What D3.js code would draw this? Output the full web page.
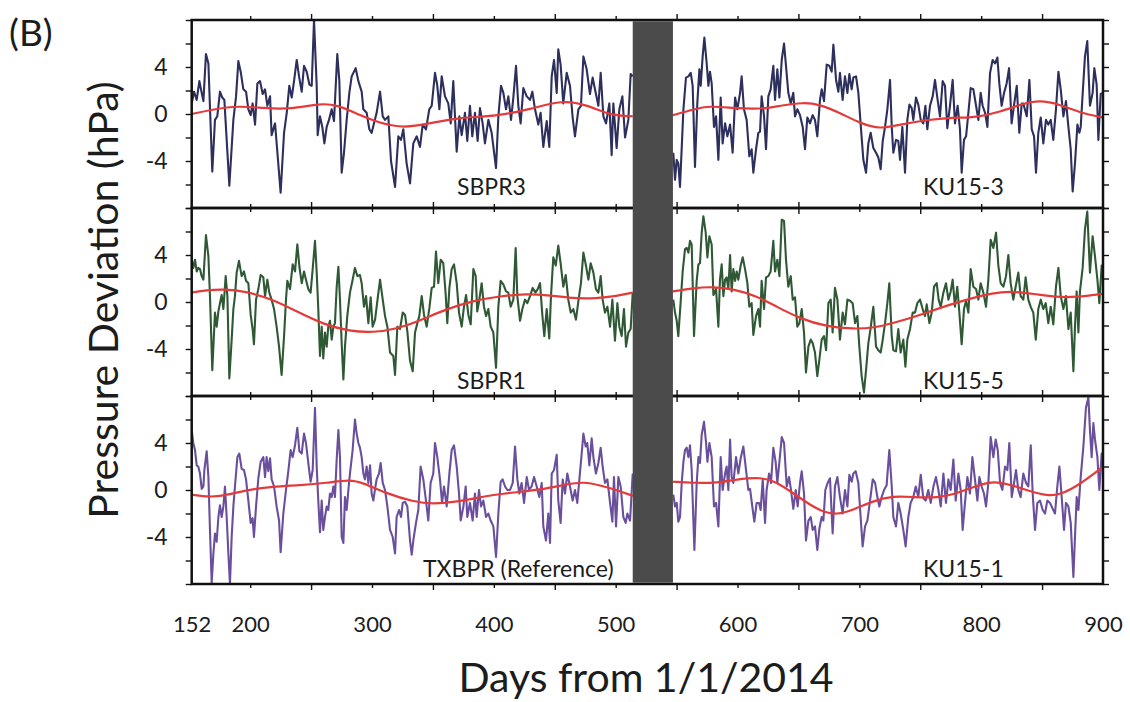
<!DOCTYPE html>
<html>
<head>
<meta charset="utf-8">
<script src="https://cdn.jsdelivr.net/npm/d3@7"></script>
<style>
  body { margin: 0; background: #fff; }
  svg { display: block; }
  text { font-family: Lato, "Open Sans", sans-serif; fill: #1c1c1c; }
</style>
</head>
<body>
<div id="chart"></div>
<script>
// axis values
var xDomain = [152, 900];
var yDomain = [-8, 8];
var gapDays = [514, 547];
var yTickLabels = [4, 0, -4];
var xTickLabels = [152, 200, 300, 400, 500, 600, 700, 800, 900];
var stationNames = [["SBPR3", "KU15-3"], ["SBPR1", "KU15-5"], ["TXBPR (Reference)", "KU15-1"]];

// pressure deviation (hPa) by day
var sbpr3 = [[152,0.9],[153.9,1.9],[156.1,1.2],[158.3,2.8],[160.2,1.8],[161.6,1.1],[163.7,5.1],[165.7,4.3],[168.9,-4.9],[171.1,-0.5],[173,-0.2],[175.2,1.9],[177.1,1.4],[178.8,1.2],[182.9,-6.1],[186.2,-0.5],[188.4,1.5],[190.3,4.5],[192.2,3.6],[194.4,2.1],[196.6,1.9],[198.5,0.4],[200.4,-0.1],[202,0.9],[204,-0.9],[205.9,2.6],[208.1,2.8],[210.3,1.7],[212.2,2.1],[214.1,0.7],[216.3,1.5],[217.6,-1.8],[220.4,-0.8],[225,-6.7],[227.8,-1.6],[230,0.1],[232.1,2.4],[234.1,1.4],[236,2.8],[238.2,4.6],[240.1,3.2],[242.3,1.9],[244.2,4.1],[246.4,3.6],[248.6,2.5],[250.5,2.4],[252.4,8],[254.6,2.4],[255.4,-1.8],[257.3,-0.2],[259.2,-1.1],[260.9,-2.5],[262.8,-1.1],[264.7,-0.5],[266.9,0.4],[268.8,-0.6],[271.5,5.1],[273.2,2.8],[275.1,-5],[277,-3.3],[279.2,-0.5],[281.4,1.8],[283.3,3.2],[286.6,3.9],[288.8,2.8],[291.5,1.9],[292.9,0.4],[295.6,0.1],[297.8,-1.3],[299.7,-1.6],[303.8,0.1],[306.6,1.9],[308.8,-0.2],[310.7,-0.5],[313.4,-0.2],[315.6,-4],[318.9,-6.2],[321.6,-1.9],[323.8,-2.2],[325.7,-1.3],[328.4,-4.2],[331.2,-5.9],[333.9,-2.5],[336.7,-1.9],[339.4,-2.8],[341.6,-0.9],[344.3,-1.3],[347,0.4],[349,0.7],[351.7,3.5],[353.6,2.4],[355.3,0.4],[357.2,3.2],[359.9,1.5],[362.6,0.9],[364.6,-0.8],[366.7,2.8],[369.5,-3.2],[371.7,-0.2],[373.6,-1.8],[376.3,0.1],[378.2,-2.3],[380.4,0.7],[382.3,-1.9],[384.5,0.1],[386.7,-2.3],[388.6,0.5],[390.8,-0.8],[392.7,-2.5],[395.5,-0.5],[398.2,-1.6],[401.8,-4.6],[403.7,-0.2],[405.9,2.4],[407.8,1.8],[410,0.4],[411.9,1.5],[414.1,-0.5],[416,1.4],[418.2,4.1],[420.1,0.7],[422,-0.8],[424.2,2.2],[427,1.5],[429.7,1.2],[431.6,1.9],[433.8,0.4],[436.5,-0.9],[438.4,0.1],[440.6,-2.8],[443.4,-0.6],[445.5,-2.8],[447.5,3.2],[449.4,4.6],[451.6,1.8],[452.9,5.5],[454.8,4.2],[457,0.9],[459.8,3.5],[462.5,2.4],[464.7,-0.3],[466.6,-1.9],[469.4,0.4],[471.5,0.7],[473.5,4.9],[476.2,3.8],[478.9,1.7],[481.1,3.1],[483,2.1],[485.8,0.7],[487.7,3.5],[489.9,-0.2],[492.1,-0.8],[494.8,0.9],[496.7,-3.5],[498.1,0.9],[500.8,-2.9],[503,0.4],[505.5,1.5],[507.7,-2],[510.4,-0.5],[512.3,3.4],[514,3.2]];
var ku153 = [[547.3,-3.3],[548.7,-5.6],[550.1,-3.9],[551.4,-4.2],[552.8,-6.2],[555.6,0.4],[557.7,3.1],[559.7,3.2],[561.6,3.5],[563.2,2.4],[565.1,-4.5],[567,0.9],[568.7,3.8],[569.8,2.4],[571.4,4.9],[572.8,6.5],[574.7,4.3],[576.1,2.4],[577.4,3.6],[578.8,2.6],[580.7,-1.1],[582.4,-0.2],[584.3,-3.9],[586.2,1.4],[587.8,-2.5],[589.8,-0.8],[591.7,-1.9],[593.9,-0.9],[596,-3.3],[598,1.4],[599.9,0.4],[602.1,1.8],[603.4,3.2],[605.3,0.4],[607.5,-0.5],[609.7,-3.6],[611.6,-3],[613,-5],[615.2,-3],[617.1,-1.6],[618.5,-1.5],[619.8,1.5],[621.8,-0.2],[623.4,-3],[625.3,1.5],[627.2,2.1],[629.4,4.1],[630.8,1.2],[632.7,3.8],[634.4,1.4],[636.3,4.6],[638.2,6],[639.8,4.1],[641.7,1.8],[643.7,0.9],[645.8,1.8],[647.2,-0.2],[649.1,0.4],[651.3,-0.1],[653.5,-1.1],[655.4,-3],[657.3,-0.3],[659.5,-0.8],[661.7,-0.1],[663.6,-0.5],[665.5,-1.9],[667.7,1.2],[669.1,2.1],[671,1.1],[673.2,4.2],[675.4,4.1],[677.3,3.6],[678.7,5.9],[680.9,2.9],[682.8,1.9],[684.1,3.5],[686.3,1.2],[688.2,3.2],[690.2,1.8],[691.8,3.4],[693.7,2.1],[695.1,3.1],[697.3,3.2],[699.2,1.8],[701.1,-0.9],[703.3,-3.9],[705.5,-5],[707.4,-2.5],[709.3,-1.6],[711.5,-2.9],[713.7,-3.3],[715.6,-3.7],[717.5,-4.7],[719.2,-2.3],[721.1,-1.1],[723,0.4],[725.2,2.9],[726.6,-1.1],[727.9,-3.3],[730.1,-2.2],[732,-2.3],[733.4,-3.9],[735.3,-1.1],[737.5,-5],[739.4,-0.5],[741.1,0.8],[743,0.5],[744.3,-0.5],[746.5,1.4],[748.4,0.8],[750.4,-0.5],[752.5,-0.8],[754.2,0.7],[755.8,-1.3],[758,0.7],[760.2,1.5],[762.1,2.9],[764,1.4],[766.2,-0.2],[768.4,2.8],[770.3,2.4],[772.2,-1.2],[774.4,0.7],[776.6,2.9],[778.5,-0.8],[780.7,0.7],[782.6,-1.3],[784,-5],[785.9,-2.2],[787.6,-1.9],[789.5,0.1],[791.4,2.2],[793.6,2.1],[795.8,0.7],[797.7,-0.5],[799.6,1.8],[801.2,0.7],[803.2,0.1],[805.1,-1.1],[807.3,3.5],[809.4,4.6],[811.4,4.3],[813.3,4.8],[814.9,2.6],[816.8,0.7],[818.8,1.8],[820.9,2.6],[822.9,3.9],[825,-0.8],[826.9,0.7],[829.2,2.4],[831.3,-1.6],[833.3,0.9],[834.6,0.9],[837.4,-0.2],[839.6,2.9],[841.5,-1.3],[843.4,-1.9],[845,-5],[846.9,-1.6],[848.9,-0.3],[851,-2.5],[853.2,-0.5],[855.1,-0.9],[857.1,-0.5],[859.2,-2.2],[861.4,0.4],[863.4,3.6],[865.3,2.1],[867.5,-0.2],[869.6,1.1],[871.6,-1.1],[873.5,-3],[875.1,-6.6],[877,-4.2],[879,-0.9],[880.6,-1.6],[881.7,-1.1],[883.3,1.7],[885.2,4.9],[887.1,6.2],[889.3,0.7],[891.5,1.8],[892.9,3.9],[894.8,2.5],[896.2,-2.2],[898.1,1.7],[900,1.8]];
var sbpr1 = [[152,3.6],[153.3,2.9],[154.7,3.6],[156.1,2.6],[157.4,2.9],[158.8,2.8],[160.2,2.2],[161.6,1.9],[163.7,5.7],[165.7,3.9],[167,0.5],[168.9,-5.8],[171.1,-0.9],[172.5,-2.1],[173.9,-0.8],[175.2,-0.1],[176.6,0.6],[178,-0.6],[179.9,2.2],[181.3,0.5],[182.9,-6.5],[184.8,-3.2],[186.2,-0.6],[187.5,0.5],[188.9,2.5],[190.8,3.5],[193,2.2],[194.9,2.6],[196.6,1.8],[198.5,1.6],[200.4,-1.1],[202,-2.3],[203.1,-3.6],[204.8,0.2],[206.7,1.1],[208.6,2.3],[210.8,2.1],[212.2,0.5],[214.1,1.9],[215.7,0.8],[217.6,0.2],[219.6,-0.6],[221.7,-2.1],[223.7,-3.8],[225.8,-6.2],[227.8,-2.9],[229.4,0.2],[230.5,1.8],[232.7,1.1],[234.9,3.2],[236.8,2.6],[238.7,4.9],[240.4,3],[242.3,1.6],[244.2,2.6],[245.8,1.9],[247.7,1.1],[249.6,0.8],[251.3,2.8],[253.2,5.2],[254.6,2.5],[255.9,-0.6],[257.3,-4.6],[258.7,-2.1],[260,-4.8],[261.4,-2.6],[262.8,-3.8],[264.1,-2.1],[265.5,-1.6],[266.9,-3.2],[268.3,-2.1],[269.6,-1.8],[271,1.3],[272.4,3],[273.7,0.2],[275.1,-3.5],[276.5,-6.6],[277.8,-3.8],[279.7,-1.2],[281.9,0.8],[284.1,1.9],[286,2.9],[288,2.2],[290.1,2.3],[291.5,1.6],[293.4,-0.4],[295.1,0.5],[297,-1.8],[298.9,0.4],[300.5,-2.1],[302.5,-1.5],[304.4,0.1],[306.6,1.9],[308.8,0.2],[310.7,-1.2],[312.6,-2.1],[314.8,-4.3],[317.5,-4.6],[318.9,-6.2],[320.8,-2.1],[323,-2.3],[325.2,-0.9],[327.1,-1.1],[329,-2.5],[331.2,-5],[333.4,-5.9],[335.3,-2.6],[337.2,-1.8],[338.8,-1.2],[340.8,0.5],[342.7,-1.1],[344.9,-2.1],[347.1,-0.5],[349,1.2],[350.9,1.3],[352.5,4.3],[354.4,1.6],[356.4,3.6],[358.5,3.3],[360.5,0.6],[361.8,-1.8],[363.5,1.2],[365.4,2.8],[367.3,3.2],[369.5,1.6],[371.4,-0.9],[373.6,-2.1],[375.5,-0.4],[377.2,0.6],[379.1,-1.1],[381,-1.9],[383.2,2.8],[385.1,2.2],[386.4,-0.8],[388.1,0.2],[390,1.6],[391.9,-0.4],[393.6,-1.2],[395.5,-0.6],[397.4,-2.1],[399.6,-2.6],[401.8,-5.6],[403.7,-0.4],[405.6,1.8],[407.8,1.5],[410,0.9],[411.9,0.8],[413.8,-0.4],[416,0.2],[417.9,4.6],[419.3,0.5],[421.5,-1.6],[423.4,-0.6],[425.6,0.2],[427.5,-0.1],[429.7,0.5],[431.9,1.2],[434.1,0.8],[436,1.1],[437.9,1.6],[439.8,-1.1],[441.4,-2.9],[443.4,-0.6],[445.5,-3.1],[446.9,0.5],[448.8,3.8],[450.8,3.1],[452.9,4.8],[454.8,3.3],[457,1.3],[459,2.3],[461.1,0.2],[463.1,-0.9],[465.2,-0.6],[467.4,-1.5],[469.4,0.1],[471.5,1.6],[473.5,4.2],[475.6,3.1],[477.6,1.9],[479.5,3.3],[481.7,2.5],[483.8,1.1],[485.8,0.8],[487.7,2.2],[489.3,0.2],[491.2,-0.9],[493.2,-0.4],[495.4,-2.1],[497.3,0.2],[499.4,-3.3],[501.4,-0.1],[503,-2.1],[504.9,-2.9],[506.8,-0.6],[508.5,-3.8],[510.4,-2.6],[512.3,-2.3],[514,0.8]];
var ku155 = [[547.3,0.2],[548.7,-0.9],[550.1,-1.6],[551.4,-2.9],[553.4,0.1],[555,2.6],[556.9,4.5],[558.3,4.6],[559.7,4.2],[561,5.2],[562.4,4.9],[564.3,-2.9],[566.5,1.8],[567.9,3.2],[569.2,3.3],[570.6,5.9],[572,7.3],[573.9,5.9],[575.3,3.8],[576.9,5.6],[578.8,4.9],[580.2,0.6],[582.4,1.1],[584.3,-2.1],[585.6,1.9],[587,3.2],[588.4,0.5],[589.8,1.9],[591.1,2.1],[592.5,1.1],[593.9,4],[595.2,0.9],[596.6,2.8],[598,1.8],[599.3,2.6],[600.7,1.9],[602.6,3.1],[604.3,3.8],[606.2,2.8],[608.1,1.6],[609.7,-0.4],[611.6,-0.1],[613,-2.8],[615.2,-1.2],[617.1,-0.6],[618.5,-2.1],[619.8,1.8],[621.8,-0.6],[623.4,2.1],[625.3,2.2],[627.2,2.6],[629.4,5.2],[630.8,2.6],[632.7,3.6],[634.4,2.2],[636.3,7],[638.2,6.9],[639.8,3.6],[641.7,1.3],[643.7,2.2],[645.3,0.2],[647.2,0.4],[649.1,-2.1],[650.8,-1.8],[652.7,-0.6],[654.6,-2.6],[656.2,-6],[658.2,-3.8],[660.1,-3.2],[661.7,-3.5],[663.6,-4.3],[665.5,-6.3],[667.2,-4.9],[669.1,-3.2],[671,-2.9],[672.7,-4.1],[674.6,-0.1],[676.5,0.2],[678.1,-2.6],[680,1.2],[682,0.2],[684.1,-3.2],[686.3,-0.9],[688.2,-1.9],[690.2,0.2],[692.4,0.1],[694.5,-0.1],[696.5,-1.8],[698.4,-1.2],[700,-3.8],[701.9,-6.3],[703.8,-7.7],[705.5,-5.8],[707.4,-3.5],[709.3,-2.2],[711.5,-0.4],[713.7,-3.8],[715.6,-4.1],[717.5,-4.3],[719.2,-3.2],[721.1,-1.8],[723,-0.1],[724.6,1.6],[726.6,-2.9],[727.9,-4.1],[730.1,-4.2],[732,-2.3],[733.9,-4.3],[736.1,-3.2],[737.8,-5.5],[739.4,-3.2],[741.6,-2.3],[743.8,-0.9],[745.7,-0.9],[747.6,-0.1],[749.8,0.2],[752,-0.6],[753.9,-1.2],[755.3,-0.2],[757.5,-1.8],[759.4,-0.9],[761.3,1.3],[763.5,1.6],[765.1,0.2],[766.8,-0.4],[769,0.8],[771.1,1.6],[773.1,0.2],[775,0.9],[776.6,1.9],[778.5,-0.4],[780.4,1.3],[782.1,-0.9],[784,-3.6],[785.9,-0.6],[787.6,0.1],[789.5,-0.9],[791.4,2.8],[793.6,1.3],[795.8,1.1],[797.7,0.2],[799.6,1.6],[801.8,0.8],[804,-0.4],[805.9,1.9],[807.8,5.3],[810,4.6],[812.2,5.9],[814.1,3.1],[816,1.6],[818.2,1.3],[820.4,2.2],[822.3,4],[824.2,1.6],[826.4,0.2],[828.3,1.3],[830.5,2.5],[832.4,0.5],[834.6,0.2],[836.5,2.1],[838.7,0.2],[840.6,-0.4],[842.8,-0.9],[844.8,-3.2],[846.9,-0.6],[848.9,0.2],[851,-0.6],[853,-0.1],[855.1,-1.8],[857.1,-0.4],[859.2,-1.9],[861.4,1.3],[863.4,2.9],[865.3,0.5],[867.5,-0.6],[869.6,0.5],[871.6,-2.3],[873.5,-0.9],[875.7,-5.9],[877,-2.1],[878.4,0.9],[879.8,-2.6],[881.1,0.9],[883.3,2.9],[885.2,6.2],[887.1,7.7],[889.3,2.5],[891.5,5.6],[893.4,3.9],[895.4,1.9],[897,-0.1],[898.9,3.1],[900,2.8]];
var txbpr = [[152,5.1],[153.3,4],[154.7,3.4],[156.1,2.1],[157.4,2],[158.8,1.4],[160.2,0.1],[161.6,0.3],[162.4,1.7],[164.3,3.3],[165.7,1.1],[167,-3.4],[168.4,-7.9],[169.8,-5.4],[171.1,-3.7],[172.5,-4.4],[173.9,-2.3],[175.2,-1.3],[176.6,-2.3],[178,-1.4],[179.3,0.3],[180.7,-2.3],[182.1,-5.4],[183.4,-8],[184.8,-4],[186.2,-1.4],[187.5,0.3],[189.5,2.8],[191.1,3.1],[193,1.8],[194.9,1.7],[196.6,0.9],[198.5,-0.9],[200.4,-2.8],[202,-2.4],[203.1,-4],[204.8,-1.4],[206.7,1],[208.6,2.4],[210.8,2.8],[212.2,1.1],[213.5,2.8],[214.9,1.6],[216.3,2.7],[217.6,0.9],[219.6,0.3],[221.7,-1.4],[223.7,-2.6],[225,-5.3],[227.2,-2],[229.4,0],[231.3,1.6],[233.2,3.4],[234.9,2.8],[236.8,3.8],[238.7,5.3],[240.4,3.3],[242.3,3.1],[244.2,4.8],[245.8,4],[247.7,2.3],[249.6,0.7],[251.3,1.7],[253.2,7],[254.6,2],[255.9,-0.9],[257.3,-3.6],[258.7,-0.9],[260,-3.4],[261.4,-2.3],[262.8,-1.4],[264.1,-1.7],[265.5,-0.3],[266.9,-0.6],[268.3,0.3],[269.6,-0.6],[271,2.6],[272.4,5.1],[273.7,2.8],[275.1,-4],[276.5,-4.5],[277.8,-0.6],[279.2,-1.7],[280.6,0],[281.9,1.4],[284.1,3.4],[286,6],[287.4,4.8],[288.8,4],[290.1,3.6],[291.5,2.8],[292.9,1.4],[294.2,0.9],[295.6,2],[297,0.6],[298.4,2.1],[299.7,-0.3],[301.1,-0.9],[302.5,0.1],[303.8,0.9],[305.7,1.4],[307.1,2.3],[308.8,0.6],[310.7,0],[312.6,-1.4],[314.8,-3.4],[317,-4],[318.9,-5.4],[320.2,-2.3],[322.2,-1.7],[323.8,-2.3],[325.2,-1.1],[327.1,-1],[329,-1.4],[331.2,-4.3],[332.6,-5.5],[333.9,-4.3],[336.1,-2.8],[338,-1.7],[339.9,2],[342.1,0.9],[344.3,-0.9],[346.2,-2.6],[348.1,0.6],[350.3,1.4],[351.7,4],[353.6,2.8],[355.8,0.9],[357.5,-1.1],[359.1,0.3],[361.3,-1.4],[363.5,1.4],[365.4,3.4],[367.3,3.8],[369.5,2],[371.4,-0.3],[372.8,-2.6],[375,-1.4],[376.9,0.3],[378.2,-2.3],[380.4,-1.1],[382.6,-2.6],[384.5,-0.3],[385.9,-2.3],[387.8,0],[389.5,-1.4],[391.4,-0.9],[393.6,-2.3],[395.5,-2],[397.4,-2.6],[399.6,-3.1],[401.8,-5.7],[403.7,-2],[405.6,0.7],[407.2,0.9],[409.2,0.3],[411.1,0],[413.3,0],[415.5,0.6],[417.4,3.7],[419.3,0.9],[420.9,-0.3],[422.8,0.6],[424.8,-1.1],[427,1.1],[428.9,0],[431,0.3],[433,1.1],[435.2,0.3],[437.3,-0.6],[439.3,0.6],[440.6,-3.1],[442.8,-4.3],[444.7,-2],[446.1,-4.5],[447.5,1.4],[449.4,1.7],[451.6,3],[452.9,-0.9],[454.8,-2.8],[456.5,0.9],[458.4,-0.3],[460.3,1.4],[462.5,0.3],[464.7,-0.9],[466.6,0],[468.5,-1.1],[470.2,0.9],[472.1,3.1],[473.5,4.8],[475.4,3.7],[476.7,4],[478.4,2.1],[480.3,4.4],[481.7,2.8],[483.8,1.4],[485.8,2.3],[487.7,3.6],[489.3,2],[491.2,0.6],[493.2,0.9],[495.4,-1.1],[497.3,-2.7],[498.6,1.1],[500.3,-3.1],[502.2,1.1],[504.1,0.3],[506.3,-2.3],[508.2,-2.8],[509.6,-2],[511.8,-2.6],[514,1.4]];
var ku151 = [[547.3,-0.4],[548.7,-1.4],[550.1,-1.1],[551.4,-2.7],[552.8,-2.3],[554.2,0.6],[555.6,2.4],[556.9,3.4],[558.3,3.6],[559.7,2.8],[561,3.8],[562.4,1.7],[564.6,-5.1],[566.5,0.6],[567.9,2.8],[569.2,2.3],[570.6,4.7],[572.5,5.8],[574.2,4],[575.3,2.4],[576.9,4],[578.8,2.8],[580.7,-1.4],[582.4,-1.1],[584.3,-3.1],[586.2,2.8],[587.8,0],[589.8,1.4],[591.1,2],[592.5,0],[593.9,4.3],[595.2,1.1],[596.6,0.6],[598.8,2.8],[600.7,1.4],[602.6,2.7],[604.8,3.7],[607,1.7],[608.9,0],[610.3,0.1],[612.5,-1.7],[613.8,-2.7],[615.7,-1.1],[617.7,-1.1],[619,-1.7],[620.7,0.9],[622.6,-2.8],[623.9,0],[625.9,1.4],[627.5,0.6],[629.4,3.6],[631.3,2.4],[632.7,0.6],[634.4,2.4],[636.3,4.5],[638.2,4],[640.4,0.3],[642.3,1.1],[643.9,0],[645.8,-1.6],[647.8,0],[649.4,-1.4],[651.3,0.6],[652.7,1.6],[654.6,-0.3],[656.2,-4.3],[658.2,-2.6],[660.1,-2.3],[661.7,-3.4],[663.6,-3.1],[665.5,-5.1],[667.2,-3.3],[669.1,-2.3],[670.5,-2.6],[672.1,0],[674,0.6],[675.9,1],[678.1,-3.7],[680,0.3],[682,1.1],[684.1,-0.6],[686.3,-2],[688.2,0],[690.2,-1.4],[691.8,1.3],[693.7,0.7],[695.1,1.4],[697,1.6],[699.2,0.6],[700.6,-1.6],[702.7,-4.8],[704.7,-3.1],[706.6,-2.6],[708.8,-0.9],[711,0.9],[712.9,0.6],[714.8,-0.6],[716.4,-1.4],[718.3,-0.6],[720.3,0],[722.4,0.4],[724.6,3.4],[726.6,0.3],[727.9,-2.3],[730.1,-3.1],[732,-1.1],[733.9,-2],[736.1,-3.4],[738,-4.8],[740.2,-2.3],[742.1,-1.1],[744.3,-0.6],[746.3,0.3],[748.4,-0.6],[750.4,1.3],[752.5,-0.7],[754.5,-0.9],[756.6,0],[758.6,-1.1],[760.8,0.3],[762.9,1.1],[764.9,0],[766.8,-1.4],[769,1.4],[771.1,-1.1],[773.1,0.9],[775,0],[777.2,2.6],[779.1,-0.9],[781.3,1.4],[783.2,0],[784.8,-3.4],[786.7,-1.1],[788.7,1.1],[790.8,-0.3],[792.8,2.8],[794.9,0.9],[796.9,-0.9],[798.5,1.1],[800.4,0.3],[802.3,-0.3],[804,-1.4],[805.9,0.6],[807.8,4.5],[810,2.8],[811.9,4.3],[813.6,3.4],[815.5,0.6],[817.4,0],[819.6,2],[821.5,1.7],[823.1,4],[825.1,-0.6],[827,0.6],[828.6,1.7],[830.5,0],[832.4,-0.6],[834.6,1.4],[836.8,0.6],[838.7,0.3],[840.7,3.8],[842.3,-0.3],[844.2,-3.4],[846.1,-1.1],[848.3,-0.9],[850.5,-1.7],[852.4,-2],[854.3,-0.9],[856.5,-1.1],[858.7,-1.6],[860.6,-2],[862.5,0.3],[864.2,2],[866.1,-0.6],[868,-3.4],[869.6,-1.1],[871.6,-1.4],[873.5,-2.8],[875.7,-7.4],[877,-4],[878.4,-0.6],[879.8,-1.7],[881.7,1.1],[883.9,3.7],[886,7],[888,7.9],[889.3,5.1],[890.7,2.8],[892.1,5.7],[893.4,4.3],[895.4,2.8],[897,0],[898.9,3.1],[900,2.8]];

// smoothed trend (red) per station
var sbpr3Trend = [[152,0],[170,0.4],[190,0.7],[211,0.5],[233,0.4],[257,0.9],[271,0.8],[290,-0.1],[307,-0.8],[326,-1.2],[348,-0.8],[370,-0.3],[402,-0.2],[430,0.4],[456,1.2],[476,0.8],[495,-0.1],[514,-0.2]];
var ku153Trend = [[547,-0.1],[564,0.4],[577,0.7],[597,0.5],[619,0.4],[635,0.7],[654,1],[668,0.8],[684,0.1],[701,-0.8],[717,-1.3],[733,-0.9],[755,-0.5],[777,-0.3],[796,-0.3],[816,0.2],[832,0.8],[848,1.2],[865,0.8],[881,0.1],[900,-0.3]];
var sbpr1Trend = [[152,0.8],[164,1],[178,1.1],[197,0.9],[219,0.2],[238,-0.8],[260,-1.9],[282,-2.5],[301,-2.6],[320,-2.3],[339,-1.6],[361,-0.6],[383,0.1],[405,0.5],[427,0.7],[443,0.6],[465,0.3],[484,0.3],[501,0.5],[514,0.8]];
var ku155Trend = [[547,0.9],[564,1.2],[580,1.3],[597,1.1],[616,0.5],[632,-0.4],[651,-1.4],[673,-2.1],[695,-2.3],[712,-2.2],[728,-1.8],[750,-1.1],[769,-0.4],[788,0.2],[810,0.8],[826,0.9],[843,0.7],[862,0.4],[878,0.4],[900,0.7]];
var txbprTrend = [[152,-0.4],[167,-0.6],[178,-0.5],[197,0],[219,0.3],[241,0.4],[263,0.6],[282,0.9],[293,0.6],[312,-0.3],[334,-1],[350,-1.2],[370,-1],[389,-0.6],[408,-0.3],[427,-0.1],[443,0.1],[460,0.5],[474,0.7],[487,0.4],[501,0],[514,-0.5]];
var ku151Trend = [[547,0.7],[564,0.6],[583,0.6],[599,0.9],[619,1.1],[632,0.7],[646,-0.3],[660,-1.3],[671,-1.9],[681,-2.1],[695,-1.7],[712,-0.9],[728,-0.5],[744,-0.6],[764,-0.7],[783,-0.2],[802,0.6],[813,0.7],[826,0.4],[840,-0.1],[854,-0.5],[865,-0.4],[878,0.3],[889,1.1],[900,2]];

var seriesColors = ["#2d2f5c", "#2e5934", "#6a4f9c"];
var trendColor = "#e53a3a";

var panels = [
  {left: sbpr3, right: ku153, leftFit: sbpr3Trend, rightFit: ku153Trend},
  {left: sbpr1, right: ku155, leftFit: sbpr1Trend, rightFit: ku155Trend},
  {left: txbpr, right: ku151, leftFit: txbprTrend, rightFit: ku151Trend}
];

// layout
var width = 1130, height = 702;
var plotLeft = 191.7, plotRight = 1103, plotTop = 20, panelH = 188;
var labelPos = [
  [{x: 457, y: 195}, {x: 923, y: 195}],
  [{x: 457, y: 389}, {x: 923, y: 389}],
  [{x: 423, y: 577}, {x: 923, y: 577}]
];

var svg = d3.select("#chart").append("svg")
  .attr("width", width)
  .attr("height", height);

var x = d3.scaleLinear().domain(xDomain).range([plotLeft, plotRight]);
var y = d3.scaleLinear().domain(yDomain).range([panelH, 0]);

var line = d3.line()
  .x(function(d) { return x(d[0]); })
  .y(function(d) { return y(d[1]); });

var smooth = d3.line()
  .x(function(d) { return x(d[0]); })
  .y(function(d) { return y(d[1]); })
  .curve(d3.curveBasis);

function styleAxis(g) {
  g.select(".domain").remove();
  g.selectAll(".tick line").attr("stroke", "#111").attr("stroke-width", 1.4);
}

panels.forEach(function(p, i) {
  var top = plotTop + i * panelH;
  var g = svg.append("g").attr("transform", "translate(0," + top + ")");

  g.append("clipPath").attr("id", "clip" + i)
    .append("rect")
    .attr("x", plotLeft).attr("y", 0)
    .attr("width", plotRight - plotLeft).attr("height", panelH);

  var plot = g.append("g").attr("clip-path", "url(#clip" + i + ")");

  [p.left, p.right].forEach(function(s) {
    plot.append("path")
      .datum(s)
      .attr("d", line)
      .attr("fill", "none")
      .attr("stroke", seriesColors[i])
      .attr("stroke-width", 2.1)
      .attr("stroke-linejoin", "round");
  });

  [p.leftFit, p.rightFit].forEach(function(s) {
    plot.append("path")
      .datum(s)
      .attr("d", smooth)
      .attr("fill", "none")
      .attr("stroke", trendColor)
      .attr("stroke-width", 2.2);
  });

  // y axes (left with labels, right ticks only)
  g.append("g")
    .attr("transform", "translate(" + plotLeft + ",0)")
    .call(d3.axisLeft(y).tickValues(d3.range(-8, 9, 2)).tickSize(6).tickPadding(18)
      .tickFormat(function(d) { return yTickLabels.indexOf(d) >= 0 ? String(d) : ""; }))
    .call(styleAxis)
    .selectAll("text")
    .style("font-family", "Lato, sans-serif")
    .style("font-size", "23px")
    .attr("fill", "#1c1c1c");

  g.append("g")
    .attr("transform", "translate(" + plotRight + ",0)")
    .call(d3.axisRight(y).tickValues(d3.range(-8, 9, 2)).tickSize(6).tickFormat(""))
    .call(styleAxis);

  // top and bottom ticks
  var minorDays = d3.range(200, 851, 100);
  var majorDays = d3.range(250, 851, 100);
  [[d3.axisTop, 0], [d3.axisBottom, panelH]].forEach(function(a) {
    g.append("g").attr("transform", "translate(0," + a[1] + ")")
      .call(a[0](x).tickValues(minorDays).tickSize(4).tickFormat(""))
      .call(styleAxis);
    g.append("g").attr("transform", "translate(0," + a[1] + ")")
      .call(a[0](x).tickValues(majorDays).tickSize(6).tickFormat(""))
      .call(styleAxis);
  });

  g.append("rect")
    .attr("x", plotLeft).attr("y", 0)
    .attr("width", plotRight - plotLeft).attr("height", panelH)
    .attr("fill", "none")
    .attr("stroke", "#111")
    .attr("stroke-width", 2.5);

  stationNames[i].forEach(function(name, j) {
    svg.append("text")
      .attr("x", labelPos[i][j].x)
      .attr("y", labelPos[i][j].y)
      .style("font-size", "23px")
      .text(name);
  });
});

// data gap
svg.append("rect")
  .attr("x", x(gapDays[0]))
  .attr("y", plotTop + 1.25)
  .attr("width", x(gapDays[1]) - x(gapDays[0]))
  .attr("height", panelH * 3 - 2.5)
  .attr("fill", "#4b4b4b");

// x tick labels under the bottom panel
svg.append("g")
  .attr("transform", "translate(0," + (plotTop + panelH * 3) + ")")
  .call(d3.axisBottom(x).tickValues(xTickLabels).tickSize(0).tickPadding(32).tickFormat(String))
  .call(function(g) { g.select(".domain").remove(); })
  .selectAll("text")
  .style("font-family", "Lato, sans-serif")
  .style("font-size", "22px")
  .attr("fill", "#1c1c1c");

svg.append("text")
  .attr("x", 646)
  .attr("y", 692)
  .attr("text-anchor", "middle")
  .style("font-size", "41px")
  .text("Days from 1/1/2014");

svg.append("text")
  .attr("transform", "translate(118,300) rotate(-90)")
  .attr("text-anchor", "middle")
  .style("font-size", "41px")
  .text("Pressure Deviation (hPa)");

svg.append("text")
  .attr("x", 9)
  .attr("y", 46)
  .style("font-size", "37px")
  .text("(B)");
</script>
</body>
</html>
